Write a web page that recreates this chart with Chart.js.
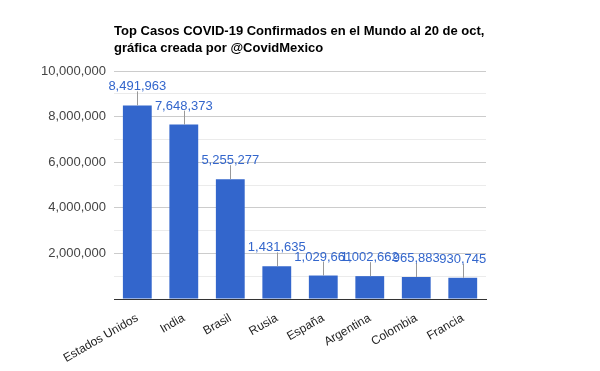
<!DOCTYPE html>
<html>
<head>
<meta charset="utf-8">
<script src="https://cdn.jsdelivr.net/npm/chart.js@4/dist/chart.umd.min.js"></script>
<style>
  body { margin: 0; background: #fff; }
  #wrap { width: 600px; height: 371px; }
</style>
</head>
<body>
<div id="wrap"><canvas id="myChart"></canvas></div>
<script>
var paises = ["Estados Unidos", "India", "Brasil", "Rusia", "España", "Argentina", "Colombia", "Francia"];
var casos = [8491963, 7648373, 5255277, 1431635, 1029661, 1002662, 965883, 930745];
var titulo = ["Top Casos COVID-19 Confirmados en el Mundo al 20 de oct,", "gráfica creada por @CovidMexico"];
var yMax = 10000000;
var yStep = 1000000;

var fmt = function(v){ return v.toLocaleString("en-US"); };

// titulo alineado con el area del grafico
var tituloPlugin = {
  id: "tituloPlugin",
  afterDraw: function(chart){
    var ctx = chart.ctx;
    ctx.save();
    ctx.font = "bold 13px 'Liberation Sans', Arial, sans-serif";
    ctx.fillStyle = "#000";
    ctx.textAlign = "left";
    ctx.textBaseline = "alphabetic";
    for (var i = 0; i < titulo.length; i++) {
      ctx.fillText(titulo[i], chart.chartArea.left, 35 + i * 17);
    }
    ctx.restore();
  }
};

// etiquetas de valor con linea guia
var etiquetas = {
  id: "etiquetas",
  afterDatasetsDraw: function(chart){
    var ctx = chart.ctx;
    var meta = chart.getDatasetMeta(0);
    ctx.save();
    ctx.font = "13px 'Liberation Sans', Arial, sans-serif";
    ctx.textAlign = "center";
    ctx.textBaseline = "bottom";
    meta.data.forEach(function(bar, i){
      var top = bar.y;
      ctx.strokeStyle = "#999";
      ctx.lineWidth = 1;
      ctx.beginPath();
      ctx.moveTo(Math.round(bar.x) + 0.5, top);
      ctx.lineTo(Math.round(bar.x) + 0.5, top - 14);
      ctx.stroke();
      ctx.fillStyle = "#3366cc";
      ctx.fillText(fmt(casos[i]), bar.x, top - 12);
    });
    ctx.restore();
  }
};

new Chart("myChart", {
  type: "bar",
  data: {
    labels: paises,
    datasets: [{
      backgroundColor: "#3366cc",
      data: casos,
      barPercentage: 0.62,
      categoryPercentage: 1
    }]
  },
  options: {
    responsive: true,
    maintainAspectRatio: false,
    animation: false,
    layout: { padding: { left: 33, right: 114, top: 71, bottom: 0 } },
    plugins: {
      legend: { display: false },
      tooltip: { enabled: false }
    },
    scales: {
      x: {
        afterFit: function(s){ s.height = 72; },
        grid: { display: false, drawTicks: false },
        border: { color: "#333", width: 1 },
        ticks: {
          color: "#222",
          font: { family: "'Liberation Sans', Arial, sans-serif", size: 12 },
          minRotation: 30,
          maxRotation: 30,
          padding: 12
        }
      },
      y: {
        min: 0,
        max: yMax,
        border: { display: false },
        grid: {
          drawTicks: false,
          color: function(c){
            if (c.tick.value === 0) return "#333";
            return (c.tick.value / yStep) % 2 === 0 ? "#ccc" : "#ebebeb";
          }
        },
        ticks: {
          stepSize: yStep,
          autoSkip: false,
          padding: 8,
          color: "#444",
          font: { family: "'Liberation Sans', Arial, sans-serif", size: 13 },
          callback: function(v){
            if (v === 0 || (v / yStep) % 2 !== 0) return "";
            return fmt(v);
          }
        }
      }
    }
  },
  plugins: [tituloPlugin, etiquetas]
});
</script>
</body>
</html>
